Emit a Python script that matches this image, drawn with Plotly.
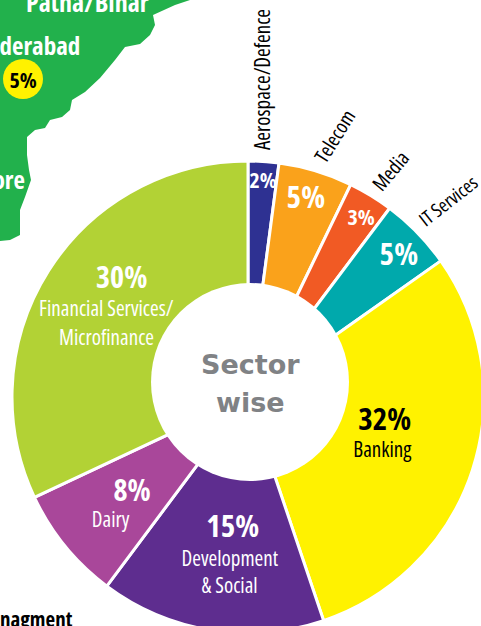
import plotly.graph_objects as go

sectors = ["Aerospace/Defence", "Telecom", "Media", "IT Services", "Banking",
           "Development & Social", "Dairy", "Financial Services/Microfinance"]
# slice sizes as drawn in the picture (angular share)
drawn_share = [2.1, 5.07, 3.08, 4.97, 29.6, 15.4, 7.8, 32.0]
colors = ["#2E3192", "#FAA21B", "#F15A24", "#00A9AC", "#FFF200",
          "#5E2D8F", "#A9479A", "#B2D235"]

W, H = 500, 660
cx, cy, r = 248, 397, 236
FONT = "Open Sans"


def X(px):
    return px / W


def Y(py):
    return 1 - py / H


labels = [
    ("30%", 121, 276, 30, "#FFFFFF", True, 0),
    ("Financial Services/", 106, 308, 21, "#FFFFFF", False, 0),
    ("Microfinance", 106, 337, 21, "#FFFFFF", False, 0),
    ("15%", 232, 525, 31, "#FFFFFF", True, 0),
    ("Development", 230, 558, 21, "#FFFFFF", False, 0),
    ("& Social", 229, 585, 21, "#FFFFFF", False, 0),
    ("8%", 132, 489, 30, "#FFFFFF", True, 0),
    ("Dairy", 111, 519, 21, "#FFFFFF", False, 0),
    ("32%", 384, 418, 31, "#000000", True, 0),
    ("Banking", 382, 449, 21, "#000000", False, 0),
    ("2%", 263, 179, 22, "#FFFFFF", True, 0),
    ("5%", 306, 196, 31, "#FFFFFF", True, 0),
    ("3%", 361, 216, 22, "#FFFFFF", True, 0),
    ("5%", 399, 253, 31, "#FFFFFF", True, 0),
    ("Aerospace/Defence", 262, 80, 21, "#000000", False, -90),
    ("Telecom", 334, 136, 20, "#000000", False, -58),
    ("Media", 391, 171, 20, "#000000", False, -50),
    ("IT Services", 448, 201, 19, "#000000", False, -38),
    ("5%", 23, 79, 22, "#000000", True, 0),
    ("Patna/Bihar", 87, 2, 26, "#FFFFFF", True, 0),
    ("derabad", 40, 45, 25, "#FFFFFF", True, 0),
    ("ore", 9, 179, 25, "#FFFFFF", True, 0),
    ("nagment", 36, 619, 21, "#000000", True, 0),
]

annotations = []
for text, x, y, size, col, bold, angle in labels:
    annotations.append(dict(
        x=X(x), y=Y(y), xref="paper", yref="paper", showarrow=False,
        text=f"<b>{text}</b>" if bold else text, textangle=angle,
        font=dict(family=FONT, size=size, color=col),
        xanchor="center", yanchor="middle"))
for text, y in [("Sector", 365), ("wise", 402)]:
    annotations.append(dict(
        x=X(250), y=Y(y), xref="paper", yref="paper", showarrow=False,
        text=f"<b>{text}</b>",
        font=dict(family="DejaVu Sans", size=27, color="#808285"),
        xanchor="center", yanchor="middle"))

coast = [(190, 0), (175, 5), (153, 15), (155, 25), (150, 35), (140, 44), (125, 47),
         (115, 60), (100, 78), (85, 92), (72, 100), (70, 110), (62, 117), (50, 120),
         (45, 128), (35, 130), (27, 137), (27, 155), (29, 170), (31, 180), (25, 197),
         (20, 210), (20, 235), (10, 240), (0, 241), (0, 0)]
path = "M " + " L ".join(f"{X(a):.4f},{Y(b):.4f}" for a, b in coast) + " Z"

shapes = [
    dict(type="path", path=path, xref="paper", yref="paper", fillcolor="#22B14C",
         line=dict(width=0), layer="below"),
    dict(type="circle", xref="paper", yref="paper", x0=X(3), x1=X(43), y0=Y(99), y1=Y(59),
         fillcolor="#FFF200", line=dict(width=0), layer="below"),
    dict(type="circle", xref="paper", yref="paper", x0=X(151), x1=X(349), y0=Y(481), y1=Y(283),
         fillcolor="#FFFFFF", line=dict(width=0), layer="above"),
]

fig = go.Figure(go.Pie(
    labels=sectors, values=drawn_share, sort=False, direction="clockwise", rotation=0,
    hole=0.2, textinfo="none", showlegend=False,
    marker=dict(colors=colors, line=dict(color="#FFFFFF", width=3)),
    domain=dict(x=[X(cx - r), X(cx + r)], y=[Y(cy + r), Y(cy - r)]),
))
fig.update_layout(width=W, height=H, margin=dict(l=0, r=0, t=0, b=0),
                  paper_bgcolor="#FFFFFF", annotations=annotations, shapes=shapes)
fig.write_html("out.html", config=dict(displayModeBar=False),
               post_script="""document.documentElement.style.overflow='hidden';document.body.style.overflow='hidden';document.body.style.margin='0';
document.querySelectorAll('.annotation-text').forEach(function(t){ if(t.style.fontFamily.indexOf('Open Sans')>=0){t.style.fontStretch='75%';} });""")
